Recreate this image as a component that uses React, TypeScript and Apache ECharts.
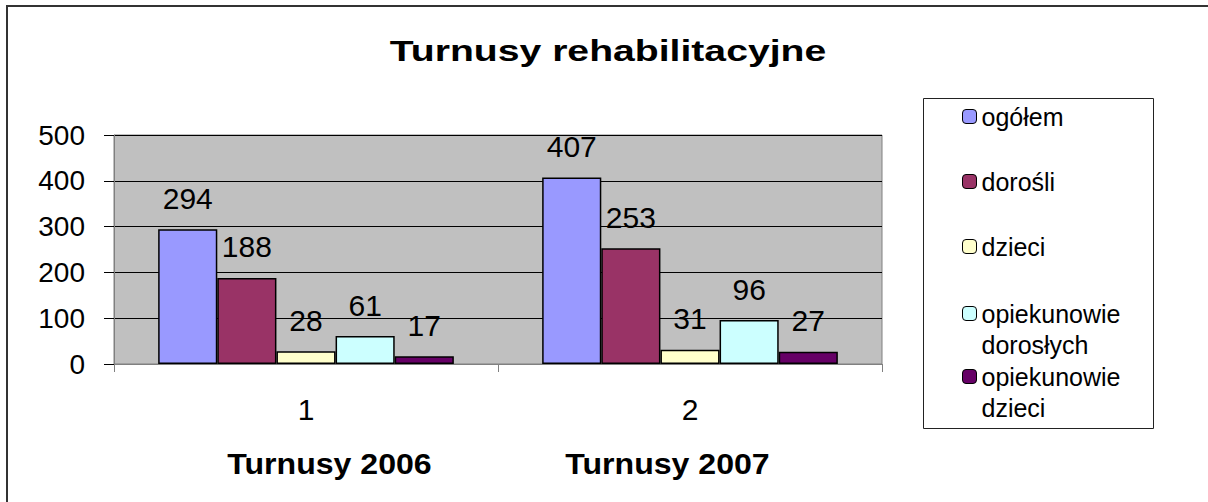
import React, { useEffect, useRef } from "react";
import * as echarts from "echarts";

const categories = ["1", "2"];
const seriesNames = ["ogółem", "dorośli", "dzieci", "opiekunowie dorosłych", "opiekunowie dzieci"];
const ogolem = [294, 407];
const dorosli = [188, 253];
const dzieci = [28, 31];
const opiekunowieDoroslych = [61, 96];
const opiekunowieDzieci = [17, 27];
const seriesValues = [ogolem, dorosli, dzieci, opiekunowieDoroslych, opiekunowieDzieci];
const seriesColors = ["#9999FF", "#993366", "#FFFFCC", "#CCFFFF", "#660066"];
const yTicks = { min: 0, max: 500, interval: 100 };
const chartTitle = "Turnusy rehabilitacyjne";
const axisTitles = ["Turnusy 2006", "Turnusy 2007"];
const legendLines: Record<string, string> = {
  "opiekunowie dorosłych": "\nopiekunowie\ndorosłych",
  "opiekunowie dzieci": "\nopiekunowie\ndzieci",
};

const FONT = "'Liberation Sans', Arial, sans-serif";

export default function App() {
  const ref = useRef<HTMLDivElement>(null);
  useEffect(() => {
    if (!ref.current) return;
    const chart = echarts.init(ref.current, undefined, { renderer: "svg" });
    const legendTops = [101, 166, 231, 267, 330];
    const legends = seriesNames.map((name, i) => ({
      show: true,
      left: 962,
      top: legendTops[i],
      padding: 0,
      orient: "vertical",
      itemWidth: 14,
      itemHeight: 14,
      itemGap: 0,
      data: [name],
      formatter: (n: string) => legendLines[n] || n,
      itemStyle: { borderColor: "#000", borderWidth: 1 },
      textStyle: {
        fontFamily: FONT,
        fontSize: 25,
        color: "#000",
        lineHeight: 31,
      },
    }));
    chart.setOption({
      animation: false,
      backgroundColor: "#fff",
      textStyle: { fontFamily: FONT },
      grid: {
        left: 114,
        right: 326,
        top: 135,
        bottom: 138,
        show: true,
        backgroundColor: "#C0C0C0",
        borderColor: "#808080",
        borderWidth: 1,
      },
      legend: legends,
      xAxis: {
        type: "category",
        data: categories,
        axisLine: { lineStyle: { color: "#808080", width: 1 } },
        axisTick: { show: true, length: 8, lineStyle: { color: "#808080" } },
        axisLabel: {
          fontFamily: FONT,
          fontSize: 30,
          lineHeight: 30,
          color: "#000",
          margin: 30,
        },
      },
      yAxis: {
        type: "value",
        min: yTicks.min,
        max: yTicks.max,
        interval: yTicks.interval,
        axisLine: { show: true, lineStyle: { color: "#808080" } },
        axisTick: { show: true, length: 10, lineStyle: { color: "#000" } },
        axisLabel: {
          fontFamily: FONT,
          fontSize: 28,
          color: "#000",
          margin: 29,
        },
        splitLine: { show: true, lineStyle: { color: "#000", width: 1 } },
      },
      series: seriesNames.map((name, i) => ({
        name,
        type: "bar",
        data: seriesValues[i],
        barGap: "0%",
        barCategoryGap: "23%",
        itemStyle: { color: seriesColors[i], borderColor: "#000", borderWidth: 1.5 },
        label: {
          show: true,
          position: "top",
          distance: 16,
          fontFamily: FONT,
          fontSize: 30,
          lineHeight: 30,
          color: "#000",
        },
      })),
      graphic: [
        {
          type: "rect",
          silent: true,
          z: -1,
          shape: { x: 7, y: 6, width: 1400, height: 700 },
          style: { fill: "none", stroke: "#333", lineWidth: 2 },
        },
        {
          type: "rect",
          silent: true,
          z: -1,
          shape: { x: 923.5, y: 98.5, width: 230, height: 330 },
          style: { fill: "none", stroke: "#222", lineWidth: 1 },
        },
        {
          type: "text",
          x: 608,
          y: 51,
          scaleX: 1.35,
          style: {
            text: chartTitle,
            font: `bold 29px ${FONT}`,
            fill: "#000",
            align: "center",
            verticalAlign: "middle",
          },
        },
        {
          type: "text",
          x: 329.5,
          y: 464,
          scaleX: 1.07,
          style: {
            text: axisTitles[0],
            font: `bold 30px ${FONT}`,
            fill: "#000",
            align: "center",
            verticalAlign: "middle",
          },
        },
        {
          type: "text",
          x: 667.5,
          y: 464,
          scaleX: 1.07,
          style: {
            text: axisTitles[1],
            font: `bold 30px ${FONT}`,
            fill: "#000",
            align: "center",
            verticalAlign: "middle",
          },
        },
      ],
    });
    return () => chart.dispose();
  }, []);
  return (
    <div
      ref={ref}
      style={{ position: "absolute", left: 0, top: 0, width: 1208, height: 502 }}
    />
  );
}
